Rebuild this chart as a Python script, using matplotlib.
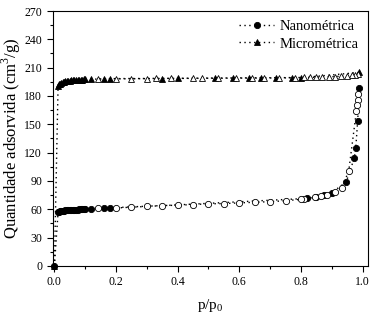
import numpy as np
import matplotlib.pyplot as plt
from matplotlib.ticker import MultipleLocator

plt.rcParams['font.family'] = 'Liberation Serif'
plt.rcParams['mathtext.fontset'] = 'custom'
plt.rcParams['mathtext.rm'] = 'Liberation Serif'

# Nanometrica - adsorption (filled) and desorption (open)
nano_ads_p = [0.0, 0.012, 0.015, 0.019, 0.023, 0.027, 0.031, 0.035, 0.04, 0.045, 0.05,
              0.055, 0.06, 0.065, 0.07, 0.075, 0.08, 0.085, 0.09, 0.095, 0.1,
              0.12, 0.16, 0.18, 0.82, 0.85, 0.875, 0.9, 0.947, 0.973, 0.978, 0.984, 0.99]
nano_ads_v = [0.0, 56.8, 57.3, 57.7, 58.0, 58.3, 58.5, 58.7, 58.9, 59.1, 59.2,
              59.3, 59.4, 59.5, 59.6, 59.7, 59.8, 59.85, 59.9, 60.0, 60.0,
              60.2, 60.8, 61.0, 71.5, 73.0, 74.8, 77.5, 89.0, 114.0, 125.0, 153.0, 188.0]
nano_des_p = [0.986, 0.984, 0.982, 0.98, 0.955, 0.932, 0.91, 0.885, 0.865, 0.845, 0.81,
              0.8, 0.75, 0.7, 0.65, 0.6, 0.55, 0.5, 0.45, 0.4, 0.35, 0.3, 0.25, 0.2, 0.14]
nano_des_v = [182.0, 176.0, 170.0, 164.0, 100.0, 83.0, 78.5, 75.5, 73.5, 72.5, 71.0,
              70.5, 69.0, 68.0, 67.4, 66.7, 66.0, 65.7, 65.0, 64.2, 63.9, 63.2, 62.5, 61.7, 61.3]

# Micrometrica - adsorption (filled) and desorption (open)
micro_ads_p = [0.0, 0.012, 0.015, 0.019, 0.023, 0.027, 0.031, 0.035, 0.04, 0.045, 0.05,
               0.055, 0.06, 0.065, 0.07, 0.075, 0.08, 0.085, 0.09, 0.095, 0.1,
               0.12, 0.16, 0.18, 0.35, 0.40, 0.52, 0.58, 0.63, 0.67, 0.72, 0.77, 0.80, 0.99]
micro_ads_v = [0.0, 191.0, 192.3, 193.2, 193.9, 194.5, 195.0, 195.4, 195.8, 196.1, 196.3,
               196.5, 196.7, 196.9, 197.0, 197.1, 197.2, 197.3, 197.4, 197.5, 197.6,
               197.8, 198.0, 198.1, 198.5, 198.6, 198.8, 198.9, 199.0, 199.0, 199.1, 199.2, 199.3, 205.0]
micro_des_p = [0.985, 0.975, 0.965, 0.95, 0.93, 0.91, 0.89, 0.87, 0.85, 0.83, 0.81, 0.78,
               0.73, 0.68, 0.64, 0.59, 0.53, 0.48, 0.45, 0.38, 0.33, 0.30, 0.25, 0.20, 0.14]
micro_des_v = [203.0, 202.3, 201.8, 201.3, 200.9, 200.6, 200.3, 200.1, 199.9, 199.7, 199.6, 199.5,
               199.4, 199.3, 199.2, 199.1, 199.0, 198.9, 198.8, 198.7, 198.6, 198.5, 198.5, 198.4, 198.2]

fig = plt.figure(figsize=(3.78, 3.15), dpi=100)
ax = fig.add_axes([0.139, 0.156, 0.834, 0.809])

line_kw = dict(color='k', linestyle=(0, (1, 2.5)), linewidth=1.0)

ax.plot(nano_ads_p, nano_ads_v, marker='o', ms=4.5, mfc='k', mec='k', mew=0.6,
        label='Nanométrica', clip_on=False, **line_kw)
ax.plot(nano_des_p, nano_des_v, marker='o', ms=4.5, mfc='white', mec='k', mew=0.6, **line_kw)
ax.plot(micro_ads_p, micro_ads_v, marker='^', ms=4.8, mfc='k', mec='k', mew=0.6,
        label='Micrométrica', clip_on=False, **line_kw)
ax.plot(micro_des_p, micro_des_v, marker='^', ms=4.8, mfc='white', mec='k', mew=0.6, **line_kw)

ax.set_xlim(-0.006, 1.017)
ax.set_ylim(0, 270)
ax.xaxis.set_major_locator(MultipleLocator(0.2))
ax.xaxis.set_minor_locator(MultipleLocator(0.1))
ax.yaxis.set_major_locator(MultipleLocator(30))
ax.yaxis.set_minor_locator(MultipleLocator(15))
ax.xaxis.set_major_formatter(plt.FuncFormatter(lambda v, p: f'{v:.1f}'))
ax.tick_params(which='major', direction='out', length=4, width=0.8, labelsize=8.5)
ax.tick_params(which='minor', direction='out', length=2, width=0.8)

ax.set_xlabel('p/p$_{\\mathregular{0}}$', fontsize=11, labelpad=6)
ax.set_ylabel('Quantidade adsorvida (cm$^{\\mathregular{3}}$/g)', fontsize=12)
ax.yaxis.set_label_coords(-0.095, 0.5)

ax.legend(loc='upper right', frameon=False, fontsize=10.5, handlelength=2.4,
          handletextpad=0.4, borderaxespad=0.2, labelspacing=0.3)

fig.savefig('out.png', dpi=100)
